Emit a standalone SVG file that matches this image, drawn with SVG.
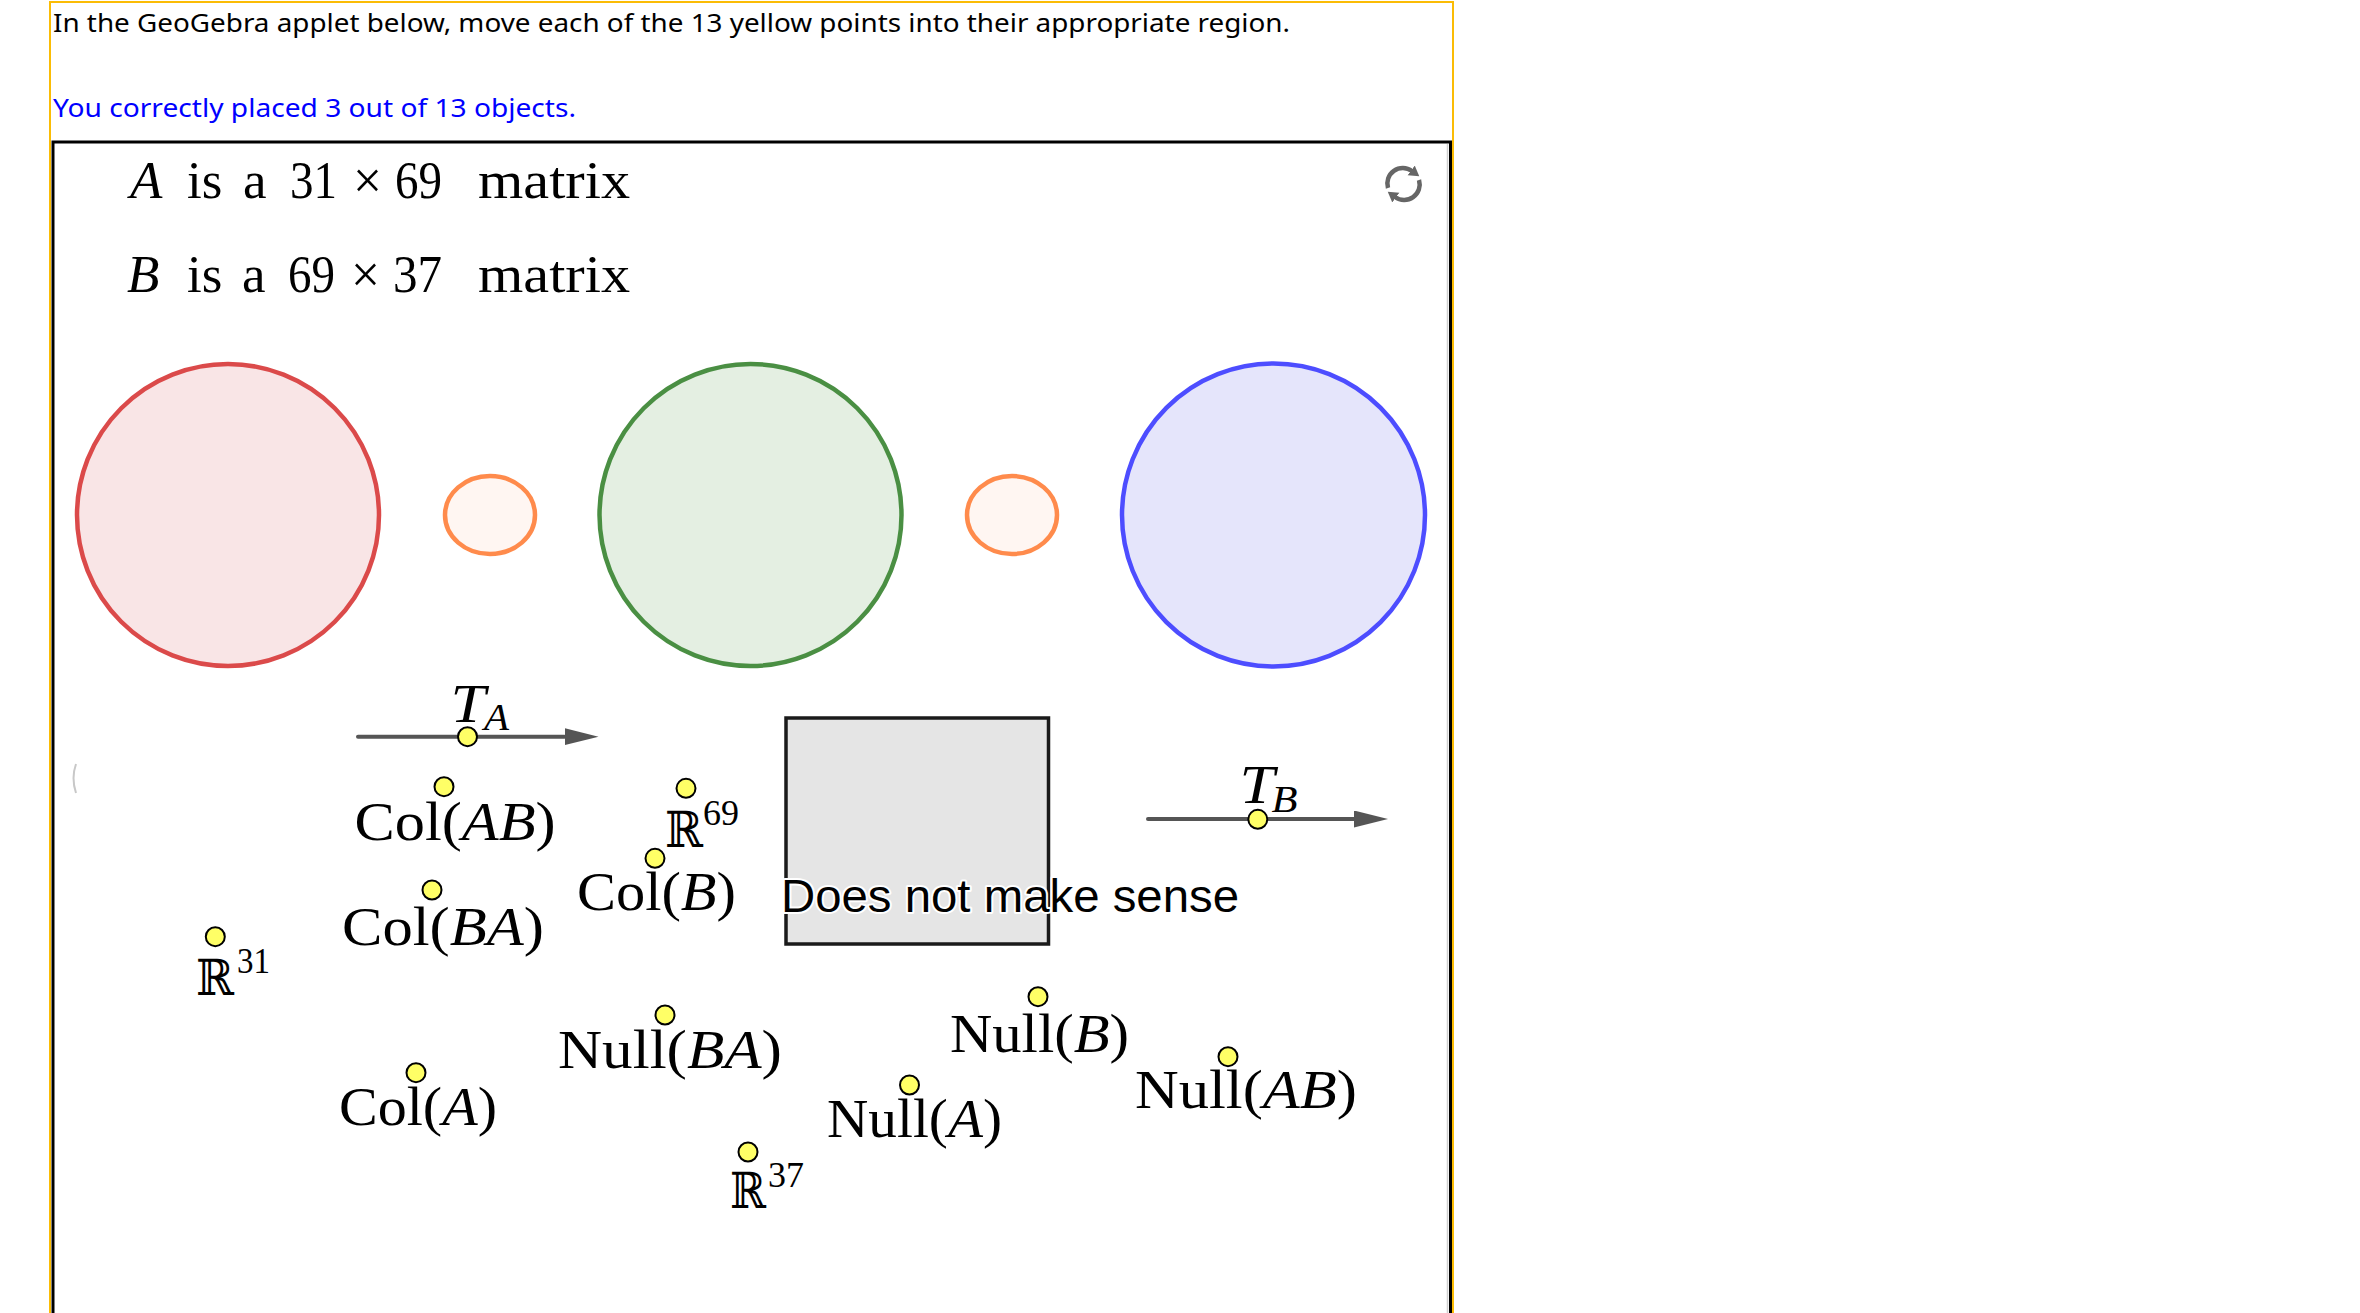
<svg xmlns="http://www.w3.org/2000/svg" width="2360" height="1313" viewBox="0 0 2360 1313">
<style>
.hdr{font-family:"Noto Sans","Liberation Sans",sans-serif;font-size:25px;}
.math{font-family:"Liberation Serif","DejaVu Serif",serif;fill:#000;}
.big{font-size:53px;}
.lbl{font-size:55px;}
.it{font-style:italic;}
.bb{font-family:"DejaVu Serif","Liberation Serif",serif;font-size:50px;}
.sup{font-family:"Liberation Serif","DejaVu Serif",serif;font-size:35px;}
.pt{fill:#ffff66;stroke:#000;stroke-width:2;}
.vec{stroke:#555;stroke-width:4;stroke-linecap:round;fill:none;}
.set{stroke-width:4.5;}
.small{fill:#fff6f2;stroke:#ff8b4c;stroke-width:4.5;}
</style>
<defs>
<marker id="vhead" markerUnits="userSpaceOnUse" markerWidth="36" markerHeight="18" refX="0" refY="8.5" orient="auto"><path d="M0,0 L34,8.5 L0,17 z" fill="#555"/></marker>
<marker id="rhead" markerUnits="userSpaceOnUse" markerWidth="12" markerHeight="13" refX="1" refY="6" orient="auto"><path d="M0,0 L10,6 L0,12 z" fill="#666"/></marker>
</defs>
<rect x="0" y="0" width="2360" height="1313" fill="#fff"/>

<g id="header">
<rect x="50" y="2" width="1403" height="1340" fill="none" stroke="#fbbc05" stroke-width="2"/>
<text class="hdr" x="53" y="32" fill="#000" textLength="1237" lengthAdjust="spacingAndGlyphs">In the GeoGebra applet below, move each of the 13 yellow points into their appropriate region.</text>
<text class="hdr" x="53" y="117" fill="#0000ff" textLength="523" lengthAdjust="spacingAndGlyphs">You correctly placed 3 out of 13 objects.</text>
</g>

<g id="applet-frame">
<rect x="53" y="142" width="1397.5" height="1220" fill="#fff" stroke="#000" stroke-width="3"/>
<line x1="1447.5" y1="144" x2="1447.5" y2="1313" stroke="#cfcfcf" stroke-width="1.5"/>
<path d="M76 764 Q71 778 76 793" fill="none" stroke="#c8c8c8" stroke-width="2"/>
</g>

<g id="refresh-icon">
<path d="M1388 188 A15.5 15.5 0 0 1 1412 171" fill="none" stroke="#666" stroke-width="4.5" marker-end="url(#rhead)"/>
<path d="M1419 180 A15.5 15.5 0 0 1 1395 197" fill="none" stroke="#666" stroke-width="4.5" marker-end="url(#rhead)"/>
</g>

<g id="matrix-A">
<text class="math big" y="198"><tspan class="it" x="130">A</tspan><tspan x="187">is</tspan><tspan x="243">a</tspan><tspan x="290" textLength="47" lengthAdjust="spacingAndGlyphs">31</tspan><tspan x="353" textLength="29" lengthAdjust="spacingAndGlyphs">×</tspan><tspan x="395" textLength="47" lengthAdjust="spacingAndGlyphs">69</tspan><tspan x="478" textLength="152" lengthAdjust="spacingAndGlyphs">matrix</tspan></text>
</g>
<g id="matrix-B">
<text class="math big" y="292"><tspan class="it" x="127">B</tspan><tspan x="187">is</tspan><tspan x="242">a</tspan><tspan x="288" textLength="47" lengthAdjust="spacingAndGlyphs">69</tspan><tspan x="351" textLength="29" lengthAdjust="spacingAndGlyphs">×</tspan><tspan x="393" textLength="49" lengthAdjust="spacingAndGlyphs">37</tspan><tspan x="478" textLength="152" lengthAdjust="spacingAndGlyphs">matrix</tspan></text>
</g>

<g id="region-red"><circle class="set" cx="228" cy="515" r="151" fill="#f9e5e6" stroke="#db4a4a"/></g>
<g id="region-orange-1"><ellipse class="small" cx="490" cy="515" rx="45" ry="39"/></g>
<g id="region-green"><circle class="set" cx="750.5" cy="515" r="151" fill="#e4efe2" stroke="#4a8f43"/></g>
<g id="region-orange-2"><ellipse class="small" cx="1012" cy="515" rx="45" ry="39"/></g>
<g id="region-blue"><circle class="set" cx="1273.5" cy="515" r="151.5" fill="#e5e5fb" stroke="#4d4dff"/></g>

<g id="does-not-make-sense">
<rect x="786" y="718" width="262.5" height="226" fill="#e5e5e5" stroke="#1a1a1a" stroke-width="3.5"/>
<text x="781" y="912" font-family="'Liberation Sans',Arial,sans-serif" font-size="46" fill="#000" stroke="#fff" stroke-width="4" paint-order="stroke" stroke-linejoin="round" textLength="458" lengthAdjust="spacingAndGlyphs">Does not make sense</text>
</g>

<g id="connectors">
<line class="vec" x1="358" y1="736.7" x2="564.5" y2="736.7" marker-end="url(#vhead)"/>
<line class="vec" x1="1148" y1="819" x2="1354" y2="819" marker-end="url(#vhead)"/>
</g>

<g id="TA">
<text class="math it" x="450.6" y="722" font-size="54" textLength="35" lengthAdjust="spacingAndGlyphs">T</text>
<text class="math it" x="484" y="730" font-size="37" textLength="25" lengthAdjust="spacingAndGlyphs">A</text>
</g>
<g id="TB">
<text class="math it" x="1239.6" y="803" font-size="54" textLength="35" lengthAdjust="spacingAndGlyphs">T</text>
<text class="math it" x="1271.6" y="812" font-size="37" textLength="26" lengthAdjust="spacingAndGlyphs">B</text>
</g>

<g id="ColAB"><text class="math lbl" x="354.6" y="840" textLength="201" lengthAdjust="spacingAndGlyphs">Col(<tspan class="it">AB</tspan>)</text></g>
<g id="ColBA"><text class="math lbl" x="342" y="945" textLength="202" lengthAdjust="spacingAndGlyphs">Col(<tspan class="it">BA</tspan>)</text></g>
<g id="ColB"><text class="math lbl" x="577" y="910" textLength="159" lengthAdjust="spacingAndGlyphs">Col(<tspan class="it">B</tspan>)</text></g>
<g id="ColA"><text class="math lbl" x="339" y="1125" textLength="158" lengthAdjust="spacingAndGlyphs">Col(<tspan class="it">A</tspan>)</text></g>
<g id="NullBA"><text class="math lbl" x="558" y="1068" textLength="224" lengthAdjust="spacingAndGlyphs">Null(<tspan class="it">BA</tspan>)</text></g>
<g id="NullB"><text class="math lbl" x="950" y="1052" textLength="179" lengthAdjust="spacingAndGlyphs">Null(<tspan class="it">B</tspan>)</text></g>
<g id="NullA"><text class="math lbl" x="827" y="1137" textLength="175" lengthAdjust="spacingAndGlyphs">Null(<tspan class="it">A</tspan>)</text></g>
<g id="NullAB"><text class="math lbl" x="1135" y="1108" textLength="222" lengthAdjust="spacingAndGlyphs">Null(<tspan class="it">AB</tspan>)</text></g>
<g id="R69"><text class="bb" x="665" y="847" textLength="38" lengthAdjust="spacingAndGlyphs">ℝ</text><text class="sup" x="703" y="825" textLength="36" lengthAdjust="spacingAndGlyphs">69</text></g>
<g id="R31"><text class="bb" x="196" y="995" textLength="38" lengthAdjust="spacingAndGlyphs">ℝ</text><text class="sup" x="237" y="973" textLength="33" lengthAdjust="spacingAndGlyphs">31</text></g>
<g id="R37"><text class="bb" x="730" y="1208" textLength="36" lengthAdjust="spacingAndGlyphs">ℝ</text><text class="sup" x="768" y="1187" textLength="36" lengthAdjust="spacingAndGlyphs">37</text></g>

<g id="points">
<circle class="pt" cx="467.5" cy="736.7" r="9.5"/>
<circle class="pt" cx="1257.8" cy="819.3" r="9.5"/>
<circle class="pt" cx="444" cy="786.7" r="9.5"/>
<circle class="pt" cx="686" cy="788.3" r="9.5"/>
<circle class="pt" cx="655" cy="858.3" r="9.5"/>
<circle class="pt" cx="432" cy="890" r="9.5"/>
<circle class="pt" cx="215.3" cy="936.7" r="9.5"/>
<circle class="pt" cx="1038" cy="996.7" r="9.5"/>
<circle class="pt" cx="665" cy="1015" r="9.5"/>
<circle class="pt" cx="1228" cy="1056.7" r="9.5"/>
<circle class="pt" cx="416" cy="1072.7" r="9.5"/>
<circle class="pt" cx="909.5" cy="1085" r="9.5"/>
<circle class="pt" cx="748" cy="1152" r="9.5"/>
</g>
</svg>
